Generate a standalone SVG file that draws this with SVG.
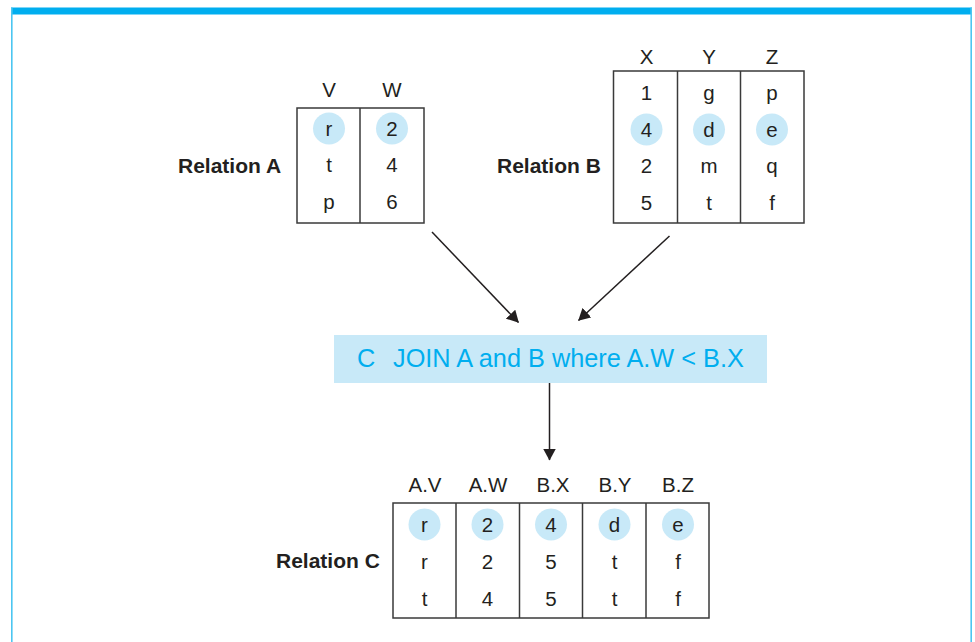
<svg xmlns="http://www.w3.org/2000/svg" width="975" height="642" viewBox="0 0 975 642">
<defs>
<style>
.t{font-family:"Liberation Sans",Arial,sans-serif;font-size:20.5px;fill:#231f20;text-anchor:middle}
.lbl{font-family:"Liberation Sans",Arial,sans-serif;font-size:21px;font-weight:bold;fill:#231f20}
.grid{fill:#ffffff;stroke:#3a3a3a;stroke-width:1.5}
.div{stroke:#3a3a3a;stroke-width:1.5}
.hl{fill:#c8e9f8}
.con{stroke:#231f20;stroke-width:1.5;fill:none}
.jt{font-family:"Liberation Sans",Arial,sans-serif;font-size:25.3px;fill:#00aeef}
</style>
<marker id="ah" viewBox="0 0 12 13" refX="11.5" refY="6.5" markerWidth="12" markerHeight="13" markerUnits="userSpaceOnUse" orient="auto">
<path d="M0,0 L12,6.5 L0,13 Z" fill="#231f20"/>
</marker>
</defs>
<rect x="0" y="0" width="975" height="642" fill="#ffffff"/>
<g id="frame">
<rect x="11" y="7.5" width="961" height="7" fill="#00aeef"/>
<rect x="11" y="7.5" width="1.6" height="635" fill="#4cc6f1"/>
<rect x="970.4" y="7.5" width="1.6" height="635" fill="#4cc6f1"/>
</g>
<g id="relationA">
<text class="lbl" x="178" y="173">Relation A</text>
<text class="t" x="329" y="97">V</text>
<text class="t" x="392" y="97">W</text>
<rect class="grid" x="297" y="108" width="127" height="115"/>
<line class="div" x1="360" y1="108" x2="360" y2="223"/>
<circle class="hl" cx="329" cy="128.5" r="16"/>
<circle class="hl" cx="392" cy="128.5" r="16"/>
<text class="t" x="329" y="135.5">r</text>
<text class="t" x="392" y="135.5">2</text>
<text class="t" x="329" y="172">t</text>
<text class="t" x="392" y="172">4</text>
<text class="t" x="329" y="209">p</text>
<text class="t" x="392" y="209">6</text>
</g>
<g id="relationB">
<text class="lbl" x="497" y="173">Relation B</text>
<text class="t" x="646.5" y="63.5">X</text>
<text class="t" x="709" y="63.5">Y</text>
<text class="t" x="772" y="63.5">Z</text>
<rect class="grid" x="613.5" y="71" width="190.5" height="152"/>
<line class="div" x1="677.5" y1="71" x2="677.5" y2="223"/>
<line class="div" x1="740.5" y1="71" x2="740.5" y2="223"/>
<circle class="hl" cx="646.5" cy="129.5" r="16"/>
<circle class="hl" cx="709" cy="129.5" r="16"/>
<circle class="hl" cx="772" cy="129.5" r="16"/>
<text class="t" x="646.5" y="99.5">1</text>
<text class="t" x="709" y="99.5">g</text>
<text class="t" x="772" y="99.5">p</text>
<text class="t" x="646.5" y="136.5">4</text>
<text class="t" x="709" y="136.5">d</text>
<text class="t" x="772" y="136.5">e</text>
<text class="t" x="646.5" y="173">2</text>
<text class="t" x="709" y="173">m</text>
<text class="t" x="772" y="173">q</text>
<text class="t" x="646.5" y="210">5</text>
<text class="t" x="709" y="210">t</text>
<text class="t" x="772" y="210">f</text>
</g>
<g id="join">
<rect x="334" y="335" width="433" height="48" fill="#c8e9f8"/>
<text class="jt" x="357" y="367">C</text>
<text class="jt" x="393" y="367">JOIN A and B where A.W &lt; B.X</text>
</g>
<g id="relationC">
<text class="lbl" x="276" y="568">Relation C</text>
<text class="t" x="425" y="492">A.V</text>
<text class="t" x="488" y="492">A.W</text>
<text class="t" x="553" y="492">B.X</text>
<text class="t" x="615" y="492">B.Y</text>
<text class="t" x="678" y="492">B.Z</text>
<rect class="grid" x="393" y="503" width="316" height="115"/>
<line class="div" x1="456" y1="503" x2="456" y2="618"/>
<line class="div" x1="519.5" y1="503" x2="519.5" y2="618"/>
<line class="div" x1="582.5" y1="503" x2="582.5" y2="618"/>
<line class="div" x1="646" y1="503" x2="646" y2="618"/>
<circle class="hl" cx="424.5" cy="524.5" r="16"/>
<circle class="hl" cx="487.5" cy="524.5" r="16"/>
<circle class="hl" cx="551" cy="524.5" r="16"/>
<circle class="hl" cx="614.5" cy="524.5" r="16"/>
<circle class="hl" cx="678" cy="524.5" r="16"/>
<text class="t" x="424.5" y="531.5">r</text>
<text class="t" x="487.5" y="531.5">2</text>
<text class="t" x="551" y="531.5">4</text>
<text class="t" x="614.5" y="531.5">d</text>
<text class="t" x="678" y="531.5">e</text>
<text class="t" x="424.5" y="569">r</text>
<text class="t" x="487.5" y="569">2</text>
<text class="t" x="551" y="569">5</text>
<text class="t" x="614.5" y="569">t</text>
<text class="t" x="678" y="569">f</text>
<text class="t" x="424.5" y="605.5">t</text>
<text class="t" x="487.5" y="605.5">4</text>
<text class="t" x="551" y="605.5">5</text>
<text class="t" x="614.5" y="605.5">t</text>
<text class="t" x="678" y="605.5">f</text>
</g>
<g id="connectors">
<line class="con" x1="432" y1="232" x2="518.5" y2="322.5" marker-end="url(#ah)"/>
<line class="con" x1="669.5" y1="236" x2="578.5" y2="320.5" marker-end="url(#ah)"/>
<line class="con" x1="549.5" y1="383" x2="549.5" y2="460" marker-end="url(#ah)"/>
</g>
</svg>
